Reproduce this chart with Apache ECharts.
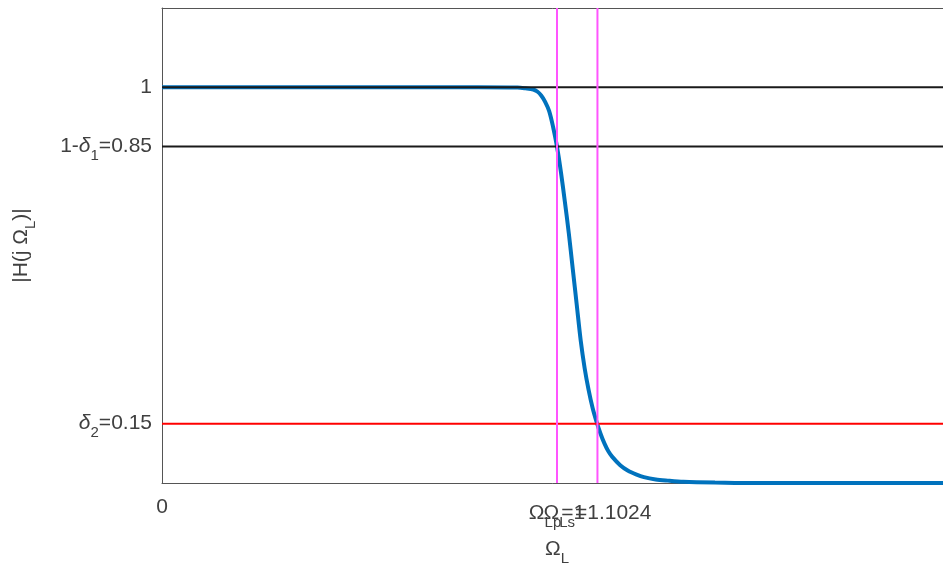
<!DOCTYPE html>
<html>
<head>
<meta charset="utf-8">
<script src="https://cdn.jsdelivr.net/npm/echarts@6/dist/echarts.min.js"></script>
<style>
html,body{margin:0;padding:0;background:#fff;}
#chart{width:943px;height:571px;}
</style>
</head>
<body>
<div id="chart"></div>
<script>
// ---- data ----
const omega = [0, 0.2, 0.4, 0.6, 0.8, 0.9, 0.92, 0.94, 0.95, 0.96, 0.97, 0.98, 0.99, 1.0, 1.01, 1.02, 1.03, 1.04, 1.05, 1.06, 1.07, 1.08, 1.09, 1.10, 1.11, 1.12, 1.13, 1.14, 1.16, 1.18, 1.20, 1.22, 1.25, 1.28, 1.32, 1.4, 1.5, 1.7, 2.0];
const magnitude = [1, 1, 1, 1, 1, 0.999, 0.997, 0.994, 0.989, 0.979, 0.963, 0.94, 0.90, 0.85, 0.785, 0.71, 0.63, 0.54, 0.45, 0.36, 0.29, 0.235, 0.19, 0.155, 0.125, 0.10, 0.08, 0.066, 0.045, 0.031, 0.022, 0.015, 0.009, 0.006, 0.003, 0.001, 0, 0, 0];
const passLevels = [1, 0.85];      // black horizontal lines
const stopLevels = [0.15];         // red horizontal line
const edgeFreqs = [1, 1.1024];     // magenta vertical lines
const xTickValues = [0, 1, 1.1024];
const xTickLabels = ['{n|0}', '{n|Ω}{s|Lp}{n|=1}', '{n|Ω}{s|Ls}{n|=1.1024}'];
const yTickValues = [0.15, 0.85, 1];
const yTickLabels = ['{d|δ}{s|2}{n|=0.15}', '{n|1-}{d|δ}{s|1}{n|=0.85}', '{n|1}'];
const xRange = [0, 2];
const yRange = [0, 1.2];

const FONT = '"Liberation Sans", Arial, Helvetica, sans-serif';
const TXT = '#404040';
const rich = {
  n: {fontSize: 21, color: TXT, fontFamily: FONT},
  d: {fontSize: 21, color: TXT, fontFamily: FONT, fontStyle: 'italic'},
  s: {fontSize: 15, color: TXT, fontFamily: FONT, padding: [18, 0, 0, 0]}
};

const curve = omega.map((w, i) => [w, magnitude[i]]);
const hLine = (v, color) => ({
  type: 'line', data: [[xRange[0], v], [xRange[1], v]], symbol: 'none', silent: true,
  lineStyle: {color: color, width: 2}, z: 3, animation: false
});
const vLine = (v) => ({
  type: 'line', data: [[v, yRange[0]], [v, yRange[1]]], symbol: 'none', silent: true,
  lineStyle: {color: '#ff55ff', width: 2}, z: 4, animation: false
});

// one bottom axis per tick label so overlapping labels are all kept
const labelAxis = (i) => ({
  type: 'value', min: xRange[0], max: xRange[1], position: 'bottom', offset: 0,
  axisLine: {show: false}, splitLine: {show: false},
  axisTick: {show: false},
  axisLabel: {
    show: true, customValues: [xTickValues[i]], margin: 14, hideOverlap: false,
    formatter: () => xTickLabels[i], rich: rich
  }
});

const chart = echarts.init(document.getElementById('chart'), null, {renderer: 'canvas'});
chart.setOption({
  animation: false,
  backgroundColor: '#fff',
  grid: {left: 162, top: 8, width: 790, height: 475, containLabel: false, outerBoundsMode: 'none'},
  xAxis: [{
    type: 'value', min: xRange[0], max: xRange[1], position: 'bottom',
    name: '{n|Ω}{s|L}', nameLocation: 'middle', nameGap: 50,
    nameTextStyle: {rich: rich},
    axisLine: {show: true, lineStyle: {color: '#555', width: 1}},
    axisTick: {show: true, inside: true, length: 6, customValues: xTickValues, lineStyle: {color: '#555'}},
    axisLabel: {show: false},
    splitLine: {show: false}
  }, {
    type: 'value', min: xRange[0], max: xRange[1], position: 'top',
    axisLine: {show: true, lineStyle: {color: '#555', width: 1}},
    axisTick: {show: true, inside: true, length: 6, customValues: xTickValues, lineStyle: {color: '#555'}},
    axisLabel: {show: false},
    splitLine: {show: false}
  }, labelAxis(0), labelAxis(1), labelAxis(2)],
  yAxis: [{
    type: 'value', min: yRange[0], max: yRange[1],
    name: '{n||H(j Ω}{s|L}{n|)|}', nameLocation: 'middle', nameGap: 124, nameRotate: 90,
    nameTextStyle: {rich: rich},
    axisLine: {show: true, lineStyle: {color: '#555', width: 1}},
    axisTick: {show: true, inside: true, length: 6, customValues: yTickValues, lineStyle: {color: '#555'}},
    axisLabel: {
      show: true, customValues: yTickValues, margin: 10,
      formatter: (v) => yTickLabels[yTickValues.indexOf(v)], rich: rich
    },
    splitLine: {show: false}
  }],
  series: [
    {
      type: 'line', data: curve, symbol: 'none', smooth: 0.3,
      lineStyle: {color: '#0072BD', width: 4}, z: 2, animation: false
    },
    ...passLevels.map(v => hLine(v, '#1a1a1a')),
    ...stopLevels.map(v => hLine(v, '#ff0000')),
    ...edgeFreqs.map(v => vLine(v))
  ]
});
</script>
</body>
</html>
